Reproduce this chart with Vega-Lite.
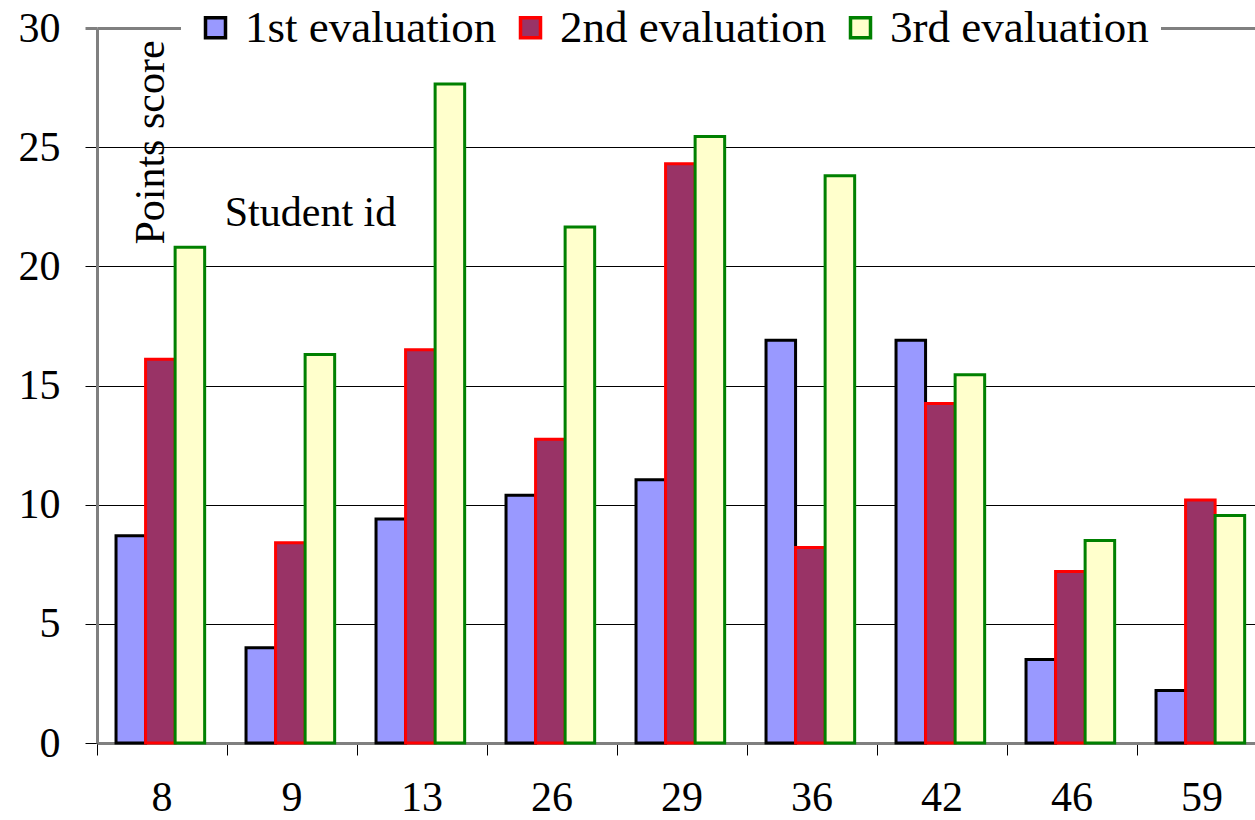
{
  "$schema": "https://vega.github.io/schema/vega-lite/v6.json",
  "width": 1158,
  "height": 715,
  "autosize": "none",
  "padding": {"left": 97, "top": 28, "right": 0, "bottom": 77},
  "background": "white",
  "data": {
    "values": [
      {"id": "8", "series": "1st evaluation", "value": 8.7},
      {"id": "8", "series": "2nd evaluation", "value": 16.1},
      {"id": "8", "series": "3rd evaluation", "value": 20.8},
      {"id": "9", "series": "1st evaluation", "value": 4.0},
      {"id": "9", "series": "2nd evaluation", "value": 8.4},
      {"id": "9", "series": "3rd evaluation", "value": 16.3},
      {"id": "13", "series": "1st evaluation", "value": 9.4},
      {"id": "13", "series": "2nd evaluation", "value": 16.5},
      {"id": "13", "series": "3rd evaluation", "value": 27.65},
      {"id": "26", "series": "1st evaluation", "value": 10.4},
      {"id": "26", "series": "2nd evaluation", "value": 12.75},
      {"id": "26", "series": "3rd evaluation", "value": 21.65},
      {"id": "29", "series": "1st evaluation", "value": 11.05},
      {"id": "29", "series": "2nd evaluation", "value": 24.3},
      {"id": "29", "series": "3rd evaluation", "value": 25.45},
      {"id": "36", "series": "1st evaluation", "value": 16.9},
      {"id": "36", "series": "2nd evaluation", "value": 8.2},
      {"id": "36", "series": "3rd evaluation", "value": 23.8},
      {"id": "42", "series": "1st evaluation", "value": 16.9},
      {"id": "42", "series": "2nd evaluation", "value": 14.25},
      {"id": "42", "series": "3rd evaluation", "value": 15.45},
      {"id": "46", "series": "1st evaluation", "value": 3.5},
      {"id": "46", "series": "2nd evaluation", "value": 7.2},
      {"id": "46", "series": "3rd evaluation", "value": 8.5},
      {"id": "59", "series": "1st evaluation", "value": 2.2},
      {"id": "59", "series": "2nd evaluation", "value": 10.2},
      {"id": "59", "series": "3rd evaluation", "value": 9.55}
    ]
  },
  "mark": {"type": "bar", "strokeWidth": 3, "strokeJoin": "miter"},
  "encoding": {
    "x": {
      "field": "id",
      "type": "nominal",
      "sort": null,
      "scale": {"range": [0, 1170], "paddingInner": 0, "paddingOuter": 0},
      "axis": {
        "title": "Student id",
        "titleX": 213,
        "titleY": -531,
        "titleAlign": "center",
        "titleBaseline": "middle",
        "titleFont": "Liberation Serif",
        "titleFontSize": 42,
        "titleFontWeight": "normal",
        "titleColor": "#000000",
        "labelAngle": 0,
        "labelFont": "Liberation Serif",
        "labelFontSize": 42,
        "labelColor": "#000000",
        "labelPadding": 22,
        "labelBaseline": "top",
        "bandPosition": 0,
        "tickSize": 12,
        "tickColor": "#000000",
        "tickWidth": 1,
        "domainColor": "#808080",
        "domainWidth": 3,
        "grid": false
      }
    },
    "xOffset": {
      "field": "series",
      "type": "nominal",
      "scale": {"paddingInner": 0, "paddingOuter": 0.7, "align": 0.46}
    },
    "y": {
      "field": "value",
      "type": "quantitative",
      "scale": {"domain": [0, 30], "nice": false},
      "axis": {
        "title": "Points score",
        "titleAngle": -90,
        "titleX": 53,
        "titleY": 114,
        "titleAlign": "center",
        "titleBaseline": "middle",
        "titleFont": "Liberation Serif",
        "titleFontSize": 42,
        "titleFontWeight": "normal",
        "titleColor": "#000000",
        "values": [0, 5, 10, 15, 20, 25, 30],
        "labelFont": "Liberation Serif",
        "labelFontSize": 42,
        "labelColor": "#000000",
        "labelPadding": 25,
        "tickSize": 12,
        "tickColor": {"condition": {"test": "datum.value === 30", "value": "#808080"}, "value": "#000000"},
        "tickWidth": {"condition": {"test": "datum.value === 30", "value": 3}, "value": 1},
        "domainColor": "#808080",
        "domainWidth": 3,
        "grid": true,
        "gridColor": {"condition": {"test": "datum.value === 30", "value": "#808080"}, "value": "#000000"},
        "gridWidth": {"condition": {"test": "datum.value === 30", "value": 3}, "value": 1}
      }
    },
    "fill": {
      "field": "series",
      "type": "nominal",
      "scale": {"domain": ["1st evaluation", "2nd evaluation", "3rd evaluation"], "range": ["#9999FF", "#993366", "#FFFFCC"]},
      "legend": {"orient": "none", "legendX": 84, "legendY": -35, "direction": "horizontal", "title": null}
    },
    "stroke": {
      "field": "series",
      "type": "nominal",
      "scale": {"domain": ["1st evaluation", "2nd evaluation", "3rd evaluation"], "range": ["#000000", "#FF0000", "#008000"]},
      "legend": {"orient": "none", "legendX": 84, "legendY": -35, "direction": "horizontal", "title": null}
    }
  },
  "config": {
    "view": {"stroke": null},
    "legend": {
      "fillColor": "white",
      "padding": 12,
      "symbolType": "square",
      "symbolSize": 400,
      "symbolStrokeWidth": 3.5,
      "labelFont": "Liberation Serif",
      "labelFontSize": 45,
      "labelColor": "#000000",
      "labelLimit": 500,
      "labelOffset": 7,
      "columnPadding": 11
    }
  }
}
